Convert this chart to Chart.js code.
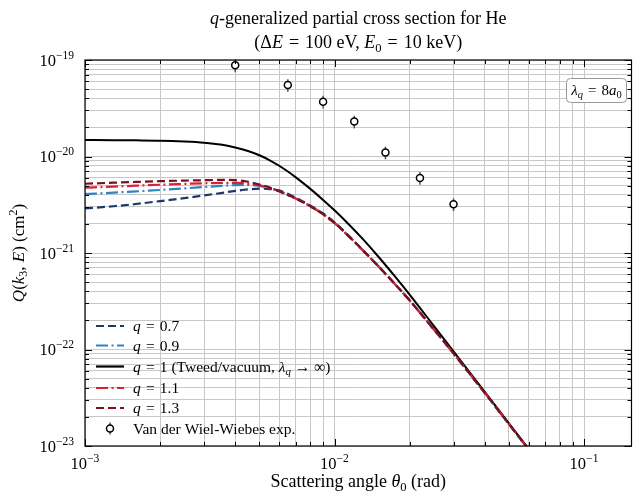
<!DOCTYPE html>
<html>
<head>
<meta charset="utf-8">
<script src="https://cdn.jsdelivr.net/npm/chart.js@4.4.1/dist/chart.umd.min.js"></script>
<style>
  html, body { margin: 0; padding: 0; background: #fff; }
  #wrap { width: 637px; height: 491px; position: relative; }
</style>
</head>
<body>
<div id="wrap"><canvas id="chart"></canvas></div>
<script>
// ===== Data =====
const theta = [0.001, 0.0013, 0.0016, 0.002, 0.0025, 0.003, 0.0035, 0.004, 0.0045, 0.005,
  0.0055, 0.006, 0.0065, 0.007, 0.008, 0.009, 0.01, 0.0115, 0.013, 0.015,
  0.0175, 0.02, 0.025, 0.03, 0.035, 0.04, 0.05, 0.06];

// Q in units of 1e-21 cm^2
const q07 = [2.9, 3.05, 3.22, 3.45, 3.7, 3.95, 4.18, 4.4, 4.56, 4.64,
  4.6, 4.45, 4.1, 3.74, 3.1, 2.57, 2.08, 1.48, 1.07, 0.731,
  0.475, 0.324, 0.162, 0.0912, 0.0552, 0.0356, 0.0169, 0.00918];
const q09 = [4.08, 4.22, 4.35, 4.5, 4.67, 4.83, 4.96, 5.05, 5.07, 4.95,
  4.7, 4.38, 4.0, 3.67, 3.06, 2.53, 2.05, 1.46, 1.065, 0.727,
  0.473, 0.323, 0.162, 0.0912, 0.0552, 0.0356, 0.0169, 0.00918];
const q10 = [14.8, 14.75, 14.7, 14.6, 14.3, 13.9, 13.3, 12.4, 11.4, 10.3,
  9.14, 8.02, 6.99, 6.08, 4.62, 3.55, 2.77, 1.94, 1.39, 0.915,
  0.569, 0.371, 0.176, 0.0955, 0.0569, 0.0364, 0.0172, 0.00935];
const q11 = [4.75, 4.88, 4.98, 5.1, 5.2, 5.28, 5.33, 5.33, 5.24, 5.02,
  4.73, 4.37, 3.99, 3.66, 3.05, 2.52, 2.05, 1.46, 1.065, 0.727,
  0.473, 0.323, 0.162, 0.0912, 0.0552, 0.0356, 0.0169, 0.00918];
const q13 = [5.22, 5.35, 5.45, 5.55, 5.63, 5.68, 5.72, 5.68, 5.48, 5.12,
  4.76, 4.36, 3.98, 3.66, 3.05, 2.52, 2.05, 1.46, 1.065, 0.727,
  0.473, 0.323, 0.162, 0.0912, 0.0552, 0.0356, 0.0169, 0.00918];
const UNIT = 1e-21;

// Van der Wiel-Wiebes experiment
const expTheta = [0.004, 0.0065, 0.009, 0.012, 0.016, 0.022, 0.030];
const expQ = [88, 55, 37, 23, 11, 6.0, 3.2]; // 1e-21 cm^2
const expErr = [0.15, 0.15, 0.15, 0.15, 0.15, 0.15, 0.15]; // relative

// axes
const xRange = [1e-3, 0.155];
const yRange = [1e-23, 1e-19];
const xTickExp = [-3, -2, -1];
const yTickExp = [-23, -22, -21, -20, -19];

// ===== Styles =====
const FONT = '"Liberation Serif", "Times New Roman", serif';
const C_NAVY = '#1b3a6b', C_BLUE = '#3182c4', C_RED = '#d62231', C_DRED = '#7b1020';
const DASH = [8, 4], DASHDOT = [12, 3.5, 2, 3.5];

// ===== Rich text helper (italic / sub / sup runs) =====
const r = t => ({ t });
const it = t => ({ t, i: true });
const sub = (t, i) => ({ t, s: 'sub', i });
const sup = t => ({ t, s: 'sup' });
const EQ = '\u2004=\u2004';

function drawRich(ctx, parts, x, y, size, align = 'center') {
  let w = 0;
  const items = parts.map(p => {
    const s = p.s ? size * 0.7 : size;
    const font = `${p.i ? 'italic ' : ''}${s}px ${FONT}`;
    ctx.font = font;
    const width = ctx.measureText(p.t).width;
    const dy = p.s === 'sub' ? size * 0.2 : p.s === 'sup' ? -size * 0.4 : 0;
    w += width;
    return { t: p.t, font, width, dy };
  });
  let cx = align === 'center' ? x - w / 2 : align === 'right' ? x - w : x;
  ctx.textAlign = 'left';
  ctx.textBaseline = 'alphabetic';
  items.forEach(o => { ctx.font = o.font; ctx.fillText(o.t, cx, y + o.dy); cx += o.width; });
  return w;
}

// 1..9 x 10^n ticks
function logTicks(lo, hi) {
  const out = [];
  for (let e = Math.floor(Math.log10(lo)); e <= Math.ceil(Math.log10(hi)); e++) {
    for (let m = 1; m <= 9; m++) {
      const v = m * Math.pow(10, e);
      if (v >= lo * 0.999 && v <= hi * 1.001) out.push({ value: v, major: m === 1 });
    }
  }
  return out;
}

const pts = ys => theta.map((x, i) => ({ x, y: ys[i] * UNIT }));
const EXP_INDEX = 5;

const legendRows = [
  { y: 326, color: C_NAVY, dash: DASH, parts: [it('q'), r(EQ + '0.7')] },
  { y: 345.5, color: C_BLUE, dash: DASHDOT, parts: [it('q'), r(EQ + '0.9')] },
  { y: 366.5, color: '#000', dash: [], parts: [it('q'), r(EQ + '1 (Tweed/vacuum, '), it('λ'), sub('q', true), r(' → ∞)')] },
  { y: 388, color: C_RED, dash: DASHDOT, parts: [it('q'), r(EQ + '1.1')] },
  { y: 408, color: C_DRED, dash: DASH, parts: [it('q'), r(EQ + '1.3')] },
  { y: 428.5, exp: true, parts: [r('Van der Wiel-Wiebes exp.')] },
];

// ===== Decorations plugin =====
const decor = {
  id: 'decor',
  beforeDatasetDraw(chart, args) {
    if (args.index !== EXP_INDEX) return;
    const { ctx, scales: { x, y } } = chart;
    ctx.save();
    ctx.strokeStyle = '#555';
    ctx.lineWidth = 1.5;
    expTheta.forEach((t, i) => {
      const px = x.getPixelForValue(t);
      ctx.beginPath();
      ctx.moveTo(px, y.getPixelForValue(expQ[i] * UNIT * (1 + expErr[i])));
      ctx.lineTo(px, y.getPixelForValue(expQ[i] * UNIT * (1 - expErr[i])));
      ctx.stroke();
    });
    ctx.restore();
  },
  afterDraw(chart) {
    const { ctx, chartArea: a, scales: { x, y } } = chart;
    ctx.save();
    ctx.fillStyle = '#000';
    ctx.strokeStyle = '#000';

    // frame
    ctx.lineWidth = 1.2;
    ctx.strokeRect(a.left, a.top, a.right - a.left, a.bottom - a.top);

    // inward ticks on all sides
    ctx.lineWidth = 1;
    ctx.beginPath();
    x.ticks.forEach(t => {
      const px = Math.round(x.getPixelForValue(t.value)) + 0.5;
      const len = t.major ? 7 : 4;
      ctx.moveTo(px, a.bottom); ctx.lineTo(px, a.bottom - len);
      ctx.moveTo(px, a.top); ctx.lineTo(px, a.top + len);
    });
    y.ticks.forEach(t => {
      const py = Math.round(y.getPixelForValue(t.value)) + 0.5;
      const len = t.major ? 7 : 4;
      ctx.moveTo(a.left, py); ctx.lineTo(a.left + len, py);
      ctx.moveTo(a.right, py); ctx.lineTo(a.right - len, py);
    });
    ctx.stroke();

    // tick labels
    xTickExp.forEach(e => {
      drawRich(ctx, [r('10'), sup('−' + Math.abs(e))], x.getPixelForValue(Math.pow(10, e)), a.bottom + 23, 16.5);
    });
    yTickExp.forEach(e => {
      drawRich(ctx, [r('10'), sup('−' + Math.abs(e))], a.left - 11, y.getPixelForValue(Math.pow(10, e)) + 5.5, 16.5, 'right');
    });

    // axis titles
    drawRich(ctx, [r('Scattering angle '), it('θ'), sub('0'), r(' (rad)')], (a.left + a.right) / 2, 487, 18);
    ctx.save();
    ctx.translate(24, (a.top + a.bottom) / 2);
    ctx.rotate(-Math.PI / 2);
    drawRich(ctx, [it('Q'), r('('), it('k'), sub('3'), r(', '), it('E'), r(') (cm'), sup('2'), r(')')], 0, 0, 17);
    ctx.restore();

    // title
    const cx = (a.left + a.right) / 2;
    drawRich(ctx, [it('q'), r('-generalized partial cross section for He')], cx, 24, 18);
    drawRich(ctx, [r('(Δ'), it('E'), r(EQ + '100 eV, '), it('E'), sub('0'), r(EQ + '10 keV)')], cx, 48, 18);

    // legend (no frame)
    legendRows.forEach(row => {
      if (row.exp) {
        ctx.strokeStyle = '#555'; ctx.lineWidth = 1.5; ctx.setLineDash([]);
        ctx.beginPath(); ctx.moveTo(110, row.y - 6); ctx.lineTo(110, row.y + 6); ctx.stroke();
        ctx.beginPath(); ctx.arc(110, row.y, 3.5, 0, Math.PI * 2);
        ctx.fillStyle = '#fff'; ctx.fill();
        ctx.strokeStyle = '#000'; ctx.stroke();
      } else {
        ctx.strokeStyle = row.color; ctx.lineWidth = 2.2; ctx.setLineDash(row.dash);
        ctx.beginPath(); ctx.moveTo(96, row.y); ctx.lineTo(124, row.y); ctx.stroke();
        ctx.setLineDash([]);
      }
      ctx.fillStyle = '#000';
      drawRich(ctx, row.parts, 133, row.y + 5, 15.5, 'left');
    });

    // annotation box
    const bx = 566.5, by = 78.5, bw = 60, bh = 24;
    ctx.beginPath();
    ctx.roundRect(bx, by, bw, bh, 4);
    ctx.fillStyle = '#fff'; ctx.fill();
    ctx.strokeStyle = '#999'; ctx.lineWidth = 1; ctx.stroke();
    ctx.fillStyle = '#000';
    drawRich(ctx, [it('λ'), sub('q', true), r(EQ + '8'), it('a'), sub('0')], bx + bw / 2, by + 16.5, 15);

    ctx.restore();
  },
};

// ===== Chart =====
const line = (label, data, color, dash, order, width = 2.2) => ({
  label, data: pts(data), borderColor: color, borderDash: dash, borderWidth: width,
  pointRadius: 0, cubicInterpolationMode: 'monotone', fill: false, order,
});

new Chart(document.getElementById('chart'), {
  type: 'line',
  data: {
    datasets: [
      line('q = 0.7', q07, C_NAVY, DASH, 6),
      line('q = 0.9', q09, C_BLUE, DASHDOT, 5),
      line('q = 1', q10, '#000', [], 4, 2),
      line('q = 1.1', q11, C_RED, DASHDOT, 3),
      line('q = 1.3', q13, C_DRED, DASH, 2),
      {
        label: 'Van der Wiel-Wiebes exp.',
        data: expTheta.map((x, i) => ({ x, y: expQ[i] * UNIT })),
        showLine: false, pointRadius: 3.5, pointBorderWidth: 1.5,
        pointBackgroundColor: '#fff', pointBorderColor: '#000', order: 1,
      },
    ],
  },
  options: {
    responsive: true,
    maintainAspectRatio: false,
    animation: false,
    layout: { padding: { left: 85, right: 1, top: 60, bottom: 45 } },
    plugins: { legend: { display: false }, title: { display: false }, tooltip: { enabled: false } },
    scales: {
      x: {
        type: 'logarithmic', min: xRange[0], max: xRange[1],
        afterBuildTicks: s => { s.ticks = logTicks(xRange[0], xRange[1]); },
        ticks: { display: false },
        grid: { color: '#c8c8c8', lineWidth: 1, drawTicks: false, tickLength: 0 },
        border: { display: false },
      },
      y: {
        type: 'logarithmic', min: yRange[0], max: yRange[1],
        afterBuildTicks: s => { s.ticks = logTicks(yRange[0], yRange[1]); },
        ticks: { display: false },
        grid: { color: '#c8c8c8', lineWidth: 1, drawTicks: false, tickLength: 0 },
        border: { display: false },
      },
    },
  },
  plugins: [decor],
});
</script>
</body>
</html>
